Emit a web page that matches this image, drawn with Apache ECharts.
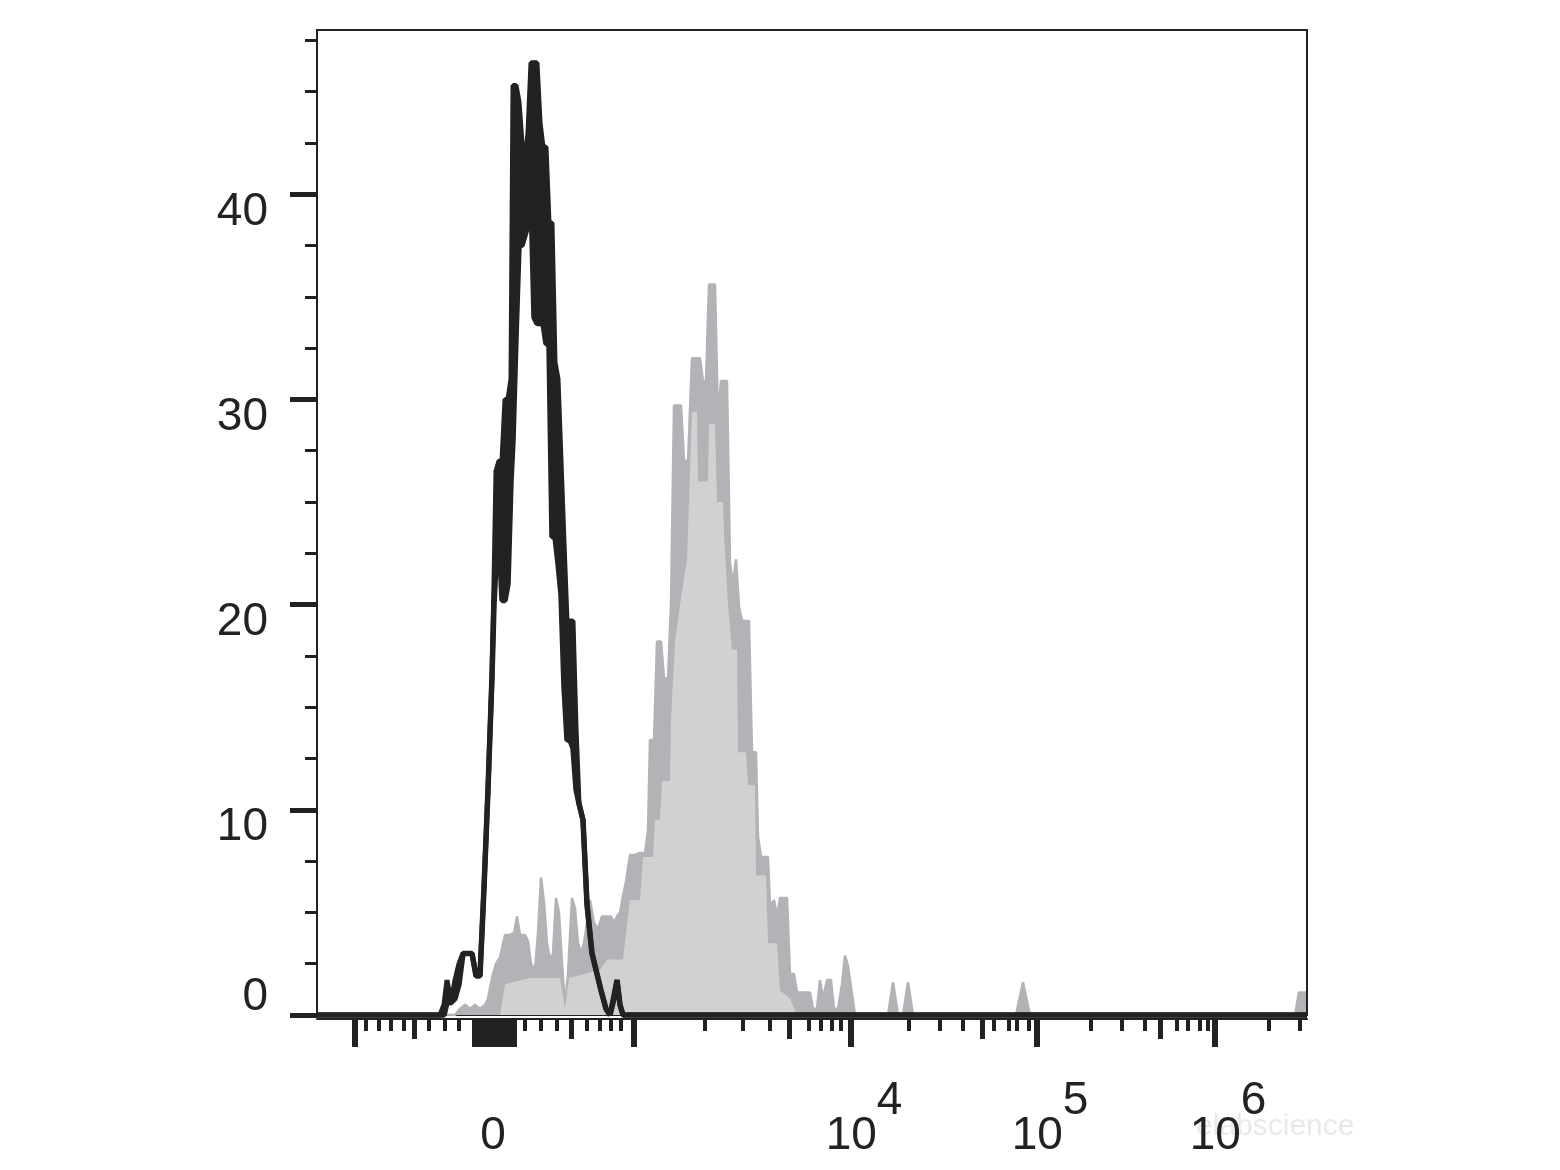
<!DOCTYPE html>
<html>
<head>
<meta charset="utf-8">
<script src="https://cdn.jsdelivr.net/npm/echarts@6/dist/echarts.min.js"></script>
<style>
html,body{margin:0;padding:0;background:#fff;}
#chart{width:1560px;height:1170px;}
</style>
</head>
<body>
<div id="chart"></div>
<script>
// ---- Data (x in display channels of the biexponential axis, y = count) ----
// Control (black, unfilled): lower / upper envelope of the jagged histogram
var blackX  = [0,123,127,130,134,138,142,146,151,155,159,163,167,171,175,177,179,182,185,188,191,194,196,199,202,205,208,211,214,217,220,223,226,229,232,235,238,241,244,247,250,253,256,259,262,266,270,275,280,284,289,293,297,300,303,306,990];
var blackLo = [0,0,0,0.6,0.6,0.8,1.5,3.0,3.0,3.0,1.9,1.9,6.2,11,16.5,20,22,23.5,20.2,20.2,21,26,28,33,37.5,37.5,38,38.5,40,34,33.7,33.7,33.7,32.7,32.7,23.3,23.3,22,20.5,16,13.4,13.4,13,11,10.3,9.5,5.4,3.0,2.0,1.2,0.3,0,0.8,1.7,0.5,0,0];
var blackHi = [0,0,0.5,1.7,0.6,1.7,2.5,3.0,3.0,3.0,2.0,2.0,6.2,11,16.5,21,26.5,27,27,30,30,31,45.3,45.3,44.5,42.5,41.5,43,46.4,46.4,46.4,43.5,42.3,42.3,38.6,38.6,31.8,31,27,23,19.2,19.2,19.2,14,10.3,9.5,5.4,3.0,2.0,1.2,0.3,0,1.0,1.7,0.5,0,0];

// Stained sample (grey, filled): outer (dark grey) and inner (light grey) envelopes
var grayUpper = [[0,0],[138,0],[143,0.3],[148,0.5],[153,0.3],[158,0.5],[163,0.3],[168,0.5],[171,0.8],[175,1.8],[179,2.5],[183,2.8],[188,3.9],[193,3.9],[197,4.0],[200,4.8],[203,3.9],[208,3.9],[211,3.6],[214,2.5],[218,2.2],[221,4],[224,6.7],[227,5.5],[230,3.5],[233,2.7],[236,3],[239,5.7],[242,5],[245,2.5],[248,0.5],[251,2],[255,5.7],[258,5.2],[261,3.5],[264,3],[267,3.5],[270,4.5],[273,5.6],[277,4.5],[281,4.2],[285,4.8],[290,4.8],[294,4.8],[297,4.5],[300,4.8],[303,5],[306,5.8],[309,6.5],[313,7.8],[318,7.8],[323,7.9],[328,7.9],[331,9],[333,13.4],[337,13.4],[340,18.2],[344,18.2],[347,16.4],[351,16.4],[354,20],[357,29.7],[361,29.7],[364,29.7],[367,27],[371,27],[375,32],[379,32],[383,32],[386,30.9],[389,30.9],[392,35.6],[395,35.6],[398,35.6],[401,29],[404,30.9],[407,30.9],[410,30.9],[413,22],[416,21],[419,22.2],[422,19.9],[425,19.2],[429,19.2],[432,19.2],[435,12.8],[439,12.8],[441,8.7],[444,7.7],[451,7.7],[453,5.3],[457,5.6],[460,4.8],[463,5.7],[467,5.7],[470,5.7],[473,2.0],[477,2.0],[480,1.1],[493,1.1],[496,0.3],[500,0.3],[503,1.7],[506,0.8],[510,1.7],[514,1.7],[517,0.3],[521,0.3],[525,1.5],[528,2.9],[531,2.4],[535,1.0],[538,0],[571,0],[576,1.6],[581,0],[586,0],[591,1.6],[596,0],[699,0],[706,1.6],[713,0],[978,0],[982,1.1],[989,1.1]];
var grayLower = [[0,0],[183,0],[188,1.5],[213,1.8],[243,1.8],[248,0.3],[252,1.8],[283,2.2],[290,2.7],[306,2.7],[313,5.6],[323,5.6],[326,7.7],[336,7.7],[338,9.5],[343,9.5],[345,11.4],[353,11.4],[354,14.4],[358,18.2],[363,20],[370,22.2],[375,29.4],[380,29.4],[381,26],[391,26],[392,28.8],[398,28.8],[400,25],[406,25],[407,23.4],[411,20],[415,17.8],[420,17.8],[421,12.8],[429,12.8],[431,11.2],[438,11.2],[439,6.8],[449,6.8],[451,3.5],[460,3.5],[463,1.2],[473,0.8],[480,0],[989,0]];

// Axis ticks (x in display channels)
var xLongTicks   = [38,158,163,168,173,178,183,188,193,197,317,534,720,898];
var xMediumTicks = [97,254,472,665,843];
var xShortTicks  = [49,62,74,87,112,128,142,208,224,240,270,283,294,304,388,426,453,492,504,515,524,592,623,646,677,692,700,712,774,805,828,860,871,883,891,952,983];
var xLabelPos  = [176,534,720,898];
var xLabelBase = ['0','10','10','10'];
var xLabelExp  = ['','4','5','6'];
var yMajorTicks = [0,10,20,30,40];
var yLabelVals  = [10,20,30,40];
var yMinorTicks = [2.5,5,7.5,12.5,15,17.5,22.5,25,27.5,32.5,35,37.5,42.5,45,47.5];

var X_MAX = 990, Y_MAX = 48;
var INK = '#222222';
var FONT = 'Liberation Sans, Arial, Helvetica, sans-serif';

function pairs(xs, ys){ return xs.map(function(x, i){ return [x, ys[i]]; }); }
// band segments between consecutive samples: [x0, lo0, hi0, x1, lo1, hi1]
var blackSegments = [];
for (var i = 0; i < blackX.length - 1; i++) {
  blackSegments.push([blackX[i], blackLo[i], blackHi[i], blackX[i+1], blackLo[i+1], blackHi[i+1]]);
}

var gridBox = {left: 317, right: 253, top: 30, bottom: 155, outerBoundsMode: 'none'};
function grid(show){
  return Object.assign({show: show, borderColor: INK, borderWidth: show ? 2 : 0, backgroundColor: 'transparent'}, gridBox);
}
function xAxisBase(gi){
  return {type: 'value', gridIndex: gi, min: 0, max: X_MAX, position: 'bottom', offset: 4,
    axisLine: {show: false, onZero: false}, splitLine: {show: false},
    axisLabel: {show: false}, axisTick: {show: false}};
}
function yAxisBase(gi){
  return {type: 'value', gridIndex: gi, min: 0, max: Y_MAX, position: 'left',
    axisLine: {show: false}, splitLine: {show: false},
    axisLabel: {show: false}, axisTick: {show: false}};
}

var x0 = xAxisBase(0);
x0.axisLine = {show: true, onZero: false, lineStyle: {color: INK, width: 2}};
x0.axisTick = {show: true, customValues: xLongTicks, length: 28, lineStyle: {color: INK, width: 6}};
x0.axisLabel = {show: true, customValues: xLabelPos, margin: 77, color: INK,
  formatter: function(v){
    var i = xLabelPos.indexOf(v);
    if (i < 0) return '';
    if (!xLabelExp[i]) return '{b|' + xLabelBase[i] + '}';
    return '{p| }{b|' + xLabelBase[i] + '}{s|' + xLabelExp[i] + '}';
  },
  rich: {
    b: {fontSize: 46, lineHeight: 46, fontFamily: FONT, color: INK, padding: [35,0,0,0]},
    s: {fontSize: 46, lineHeight: 46, fontFamily: FONT, color: INK, padding: [0,0,35,0]},
    p: {fontSize: 46, lineHeight: 46, width: 26, fontFamily: FONT, padding: [35,0,0,0]}
  }
};
var x1 = xAxisBase(1);
x1.axisTick = {show: true, customValues: xMediumTicks, length: 20, lineStyle: {color: INK, width: 5}};
var x2 = xAxisBase(2);
x2.axisTick = {show: true, customValues: xShortTicks, length: 12, lineStyle: {color: INK, width: 4}};

var y0 = yAxisBase(0);
y0.axisLine = {show: true, onZero: false, lineStyle: {color: INK, width: 2}};
y0.axisTick = {show: true, customValues: yMajorTicks, length: 27, lineStyle: {color: INK, width: 5}};
y0.axisLabel = {show: true, customValues: yLabelVals, margin: 49, fontSize: 46, lineHeight: 36,
  fontFamily: FONT, color: INK, verticalAlign: 'top'};
var y1 = yAxisBase(1);
y1.axisTick = {show: true, customValues: yMinorTicks, length: 12, lineStyle: {color: INK, width: 3}};
y1.axisLabel = {show: true, customValues: [0], margin: 49, fontSize: 46, lineHeight: 36,
  fontFamily: FONT, color: INK, verticalAlign: 'bottom'};
var y2 = yAxisBase(2);

var option = {
  animation: false,
  backgroundColor: '#ffffff',
  grid: [grid(true), grid(false), grid(false)],
  xAxis: [x0, x1, x2],
  yAxis: [y0, y1, y2],
  graphic: [{
    type: 'text', left: 1196, top: 1112, z: -1,
    style: {text: 'elabscience', fontSize: 30, fontFamily: FONT, fill: '#e9e9e9'}
  }],
  series: [
    {name: 'Stained (outer)', type: 'line', xAxisIndex: 0, yAxisIndex: 0, data: grayUpper,
      symbol: 'none', z: 1,
      lineStyle: {color: '#b3b3b7', width: 2.5}, areaStyle: {color: '#b3b3b7', opacity: 1}},
    {name: 'Stained (inner)', type: 'line', xAxisIndex: 0, yAxisIndex: 0, data: grayLower,
      symbol: 'none', z: 2,
      lineStyle: {width: 0, opacity: 0}, areaStyle: {color: '#d1d1d1', opacity: 1}},
    {name: 'Control band', type: 'custom', xAxisIndex: 0, yAxisIndex: 0, z: 3,
      data: blackSegments, encode: {x: [0, 3], y: [1, 2, 4, 5]},
      renderItem: function(params, api){
        var a = api.coord([api.value(0), api.value(1)]);
        var b = api.coord([api.value(3), api.value(4)]);
        var c = api.coord([api.value(3), api.value(5)]);
        var d = api.coord([api.value(0), api.value(2)]);
        return {type: 'polygon', shape: {points: [a, b, c, d]}, style: {fill: INK, stroke: INK, lineWidth: 1}};
      }},
    {name: 'Control low', type: 'line', xAxisIndex: 0, yAxisIndex: 0,
      data: pairs(blackX, blackLo), symbol: 'none', z: 4, clip: false,
      lineStyle: {color: INK, width: 5.5}},
    {name: 'Control high', type: 'line', xAxisIndex: 0, yAxisIndex: 0,
      data: pairs(blackX, blackHi), symbol: 'none', z: 4, clip: false,
      lineStyle: {color: INK, width: 5}}
  ]
};
var chart = echarts.init(document.getElementById('chart'), null, {renderer: 'canvas'});
chart.setOption(option);
</script>
</body>
</html>
